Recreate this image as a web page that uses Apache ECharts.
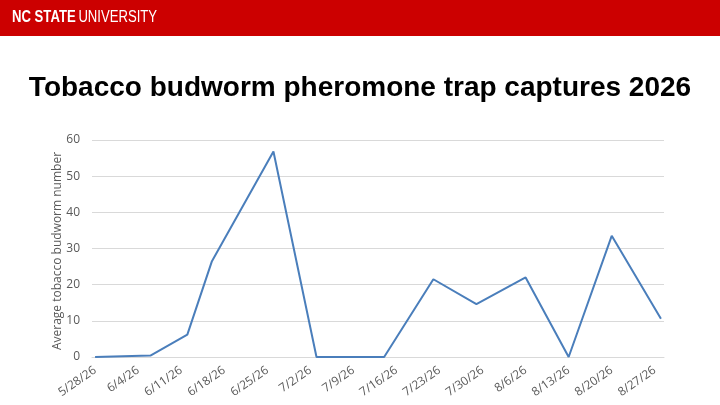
<!DOCTYPE html>
<html>
<head>
<meta charset="utf-8">
<script src="https://cdn.jsdelivr.net/npm/echarts@6/dist/echarts.min.js"></script>
<style>
html,body{margin:0;padding:0;background:#fff;}
#chart{width:720px;height:405px;}
</style>
</head>
<body>
<div id="chart"></div>
<script>
// Sample dates (irregular) and average captures
const sampleDates = ['2026-05-28','2026-06-06','2026-06-12','2026-06-16','2026-06-26','2026-07-03','2026-07-09','2026-07-14','2026-07-22','2026-07-29','2026-08-06','2026-08-13','2026-08-20','2026-08-28'];
const captureValues = [0, 0.4, 6.2, 26.5, 56.8, 0, 0, 0, 21.5, 14.6, 22.0, 0, 33.5, 10.6];
// Weekly tick labels
const tickLabels = ['5/28/26','6/4/26','6/11/26','6/18/26','6/25/26','7/2/26','7/9/26','7/16/26','7/23/26','7/30/26','8/6/26','8/13/26','8/20/26','8/27/26'];
const yTicks = [0,10,20,30,40,50,60];
const yAxisTitle = 'Average tobacco budworm number';

const DAY = 86400000;
const base = Date.UTC(2026,4,28);
function dayOf(s){const p=s.split('-').map(Number);return (Date.UTC(p[0],p[1]-1,p[2])-base)/DAY;}
const seriesData = sampleDates.map((d,i)=>[dayOf(d), captureValues[i]]);
const tickDays = tickLabels.map((_,i)=>i*7);

const chart = echarts.init(document.getElementById('chart'));
chart.setOption({
  animation:false,
  backgroundColor:'#ffffff',
  graphic:[
    {type:'rect',left:0,top:0,shape:{width:720,height:36},style:{fill:'#cc0000'}},
    {type:'text',x:12,y:10,scaleX:0.82,style:{
      text:'{b|NC STATE} {r|UNIVERSITY}',
      rich:{
        b:{fontFamily:'Liberation Sans',fontWeight:'bold',fontSize:16,fill:'#ffffff'},
        r:{fontFamily:'Liberation Sans',fontSize:16,fill:'#ffffff'}
      }
    }},
    {type:'text',left:'center',top:74,style:{
      text:'Tobacco budworm pheromone trap captures 2026',
      fontFamily:'Liberation Sans',fontWeight:'bold',fontSize:28,fill:'#000000'
    }},
    {type:'text',x:58,y:251,rotation:Math.PI/2,style:{
      text:yAxisTitle,align:'center',verticalAlign:'middle',
      fontFamily:'Open Sans',fontSize:12,fill:'#595959'
    }}
  ],
  grid:{left:92,right:56,top:140,bottom:48},
  xAxis:{
    type:'value',min:-0.5,max:92.5,
    axisLine:{show:true,lineStyle:{color:'#d9d9d9',width:1}},
    axisTick:{show:false},
    splitLine:{show:false},
    axisLabel:{
      customValues:tickDays,
      rotate:35,margin:12,
      color:'#595959',fontSize:12,fontFamily:'Open Sans',
      formatter:function(v){const i=Math.round(v/7);return tickLabels[i]||'';}
    }
  },
  yAxis:{
    type:'value',min:yTicks[0],max:yTicks[yTicks.length-1],interval:10,
    axisLine:{show:false},axisTick:{show:false},
    axisLabel:{color:'#595959',fontSize:12,fontFamily:'Open Sans',margin:12},
    splitLine:{lineStyle:{color:'#d9d9d9',width:1}}
  },
  series:[{
    type:'line',
    data:seriesData,
    showSymbol:false,
    lineStyle:{color:'#4a7ebb',width:2},
    itemStyle:{color:'#4a7ebb'}
  }]
});
</script>
</body>
</html>
